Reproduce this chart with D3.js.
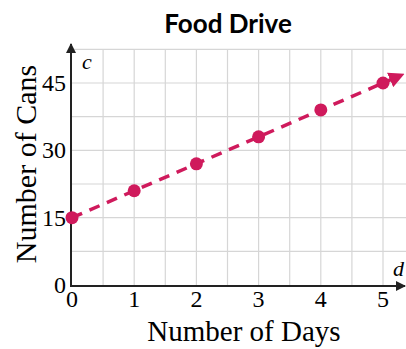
<!DOCTYPE html>
<html>
<head>
<meta charset="utf-8">
<script src="https://cdn.jsdelivr.net/npm/d3@7"></script>
<style>
  body { margin: 0; background: #fff; }
</style>
</head>
<body>
<div id="chart"></div>
<script>
var days = [0, 1, 2, 3, 4, 5];
var cans = [15, 21, 27, 33, 39, 45];
var xTicks = [0, 1, 2, 3, 4, 5];
var yTicks = [0, 15, 30, 45];

function init(){
    var w = 406, h = 349;
    var pink = "#cf1a5c";

    var x = d3.scaleLinear().domain([0, 5]).range([72, 383]);
    var y = d3.scaleLinear().domain([0, 45]).range([285, 83]);

    var svg = d3.select("#chart").append("svg")
        .attr("width", w).attr("height", h);

    var defs = svg.append("defs");
    defs.append("marker").attr("id", "ax")
        .attr("viewBox", "0 0 10 10").attr("refX", 9).attr("refY", 5)
        .attr("markerWidth", 5).attr("markerHeight", 5).attr("orient", "auto")
        .append("path").attr("d", "M0,0 L10,5 L0,10 Z").attr("fill", "#222");
    defs.append("marker").attr("id", "pk")
        .attr("viewBox", "0 0 10 10").attr("refX", 8).attr("refY", 5)
        .attr("markerWidth", 4.5).attr("markerHeight", 4.5).attr("orient", "auto")
        .append("path").attr("d", "M0,0 L10,5 L0,10 Z").attr("fill", pink);

    // grid every half day / 7.5 cans
    var gx = d3.range(0.5, 5.6, 0.5);
    var gy = d3.range(7.5, 53, 7.5);
    var xMax = 5.6, yMax = 52.5;
    svg.append("g").selectAll("line").data(gx).enter().append("line")
        .attr("x1", d => x(d)).attr("x2", d => x(d))
        .attr("y1", y(0)).attr("y2", y(yMax))
        .attr("stroke", "#d6d6d6").attr("stroke-width", 1.2);
    svg.append("g").selectAll("line").data(gy).enter().append("line")
        .attr("x1", x(0)).attr("x2", x(xMax))
        .attr("y1", d => y(d)).attr("y2", d => y(d))
        .attr("stroke", "#d6d6d6").attr("stroke-width", 1.2);

    // axes with arrows
    svg.append("line").attr("x1", x(0) - 1).attr("x2", x(0) - 1)
        .attr("y1", y(0) + 1).attr("y2", 44)
        .attr("stroke", "#222").attr("stroke-width", 2)
        .attr("marker-end", "url(#ax)");
    svg.append("line").attr("x1", x(0) - 2).attr("x2", 405)
        .attr("y1", y(0) + 1).attr("y2", y(0) + 1)
        .attr("stroke", "#222").attr("stroke-width", 2)
        .attr("marker-end", "url(#ax)");

    var serif = "'Liberation Serif', 'DejaVu Serif', serif";

    svg.append("g").selectAll("text").data(yTicks).enter().append("text")
        .attr("x", 66).attr("y", d => y(d) + 8)
        .attr("text-anchor", "end")
        .attr("font-family", serif).attr("font-size", 24)
        .text(d => d);
    svg.append("g").selectAll("text").data(xTicks).enter().append("text")
        .attr("x", d => x(d)).attr("y", 307)
        .attr("text-anchor", "middle")
        .attr("font-family", serif).attr("font-size", 24)
        .text(d => d);

    svg.append("text").attr("x", 82).attr("y", 69)
        .attr("font-family", serif).attr("font-style", "italic").attr("font-size", 22)
        .text("c");
    svg.append("text").attr("x", 393).attr("y", 276)
        .attr("font-family", serif).attr("font-style", "italic").attr("font-size", 22)
        .text("d");

    svg.append("text").attr("x", 244).attr("y", 341)
        .attr("text-anchor", "middle")
        .attr("font-family", serif).attr("font-size", 29)
        .text("Number of Days");
    svg.append("text")
        .attr("transform", "translate(36,164) rotate(-90)")
        .attr("text-anchor", "middle")
        .attr("font-family", serif).attr("font-size", 30)
        .text("Number of Cans");

    svg.append("text").attr("x", 228).attr("y", 33)
        .attr("text-anchor", "middle")
        .attr("font-family", "Lato, 'Open Sans', sans-serif").attr("font-weight", "bold")
        .attr("font-size", 26)
        .text("Food Drive");

    // dashed trend line extended a little past the last point
    var slope = (cans[cans.length - 1] - cans[0]) / (days[days.length - 1] - days[0]);
    var xEnd = 5.3;
    svg.append("line")
        .attr("x1", x(days[0])).attr("y1", y(cans[0]))
        .attr("x2", x(xEnd)).attr("y2", y(cans[0] + slope * xEnd))
        .attr("stroke", pink).attr("stroke-width", 3.5)
        .attr("stroke-dasharray", "11,8")
        .attr("marker-end", "url(#pk)");

    svg.append("g").selectAll("circle").data(days).enter().append("circle")
        .attr("cx", (d, i) => x(d)).attr("cy", (d, i) => y(cans[i]))
        .attr("r", 6.5).attr("fill", pink);
}
window.onload = init;
</script>
</body>
</html>
